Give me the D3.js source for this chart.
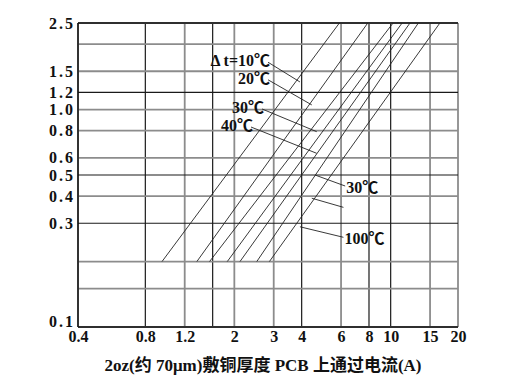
<!DOCTYPE html>
<html>
<head>
<meta charset="utf-8">
<script src="https://cdn.jsdelivr.net/npm/d3@7"></script>
<style>
    body { margin: 0; background: #fff; }
    .ylab text { font-family: "Liberation Serif", "Noto Sans CJK SC", serif; font-weight: bold; font-size: 16px; letter-spacing: 2px; fill: #111; }
    .xlab text { font-family: "Liberation Serif", "Noto Sans CJK SC", serif; font-weight: bold; font-size: 16px; fill: #111; }
    .note { font-family: "Liberation Serif", "Noto Sans CJK SC", serif; font-weight: bold; font-size: 16px; fill: #111; }
    .title { font-family: "Liberation Serif", "Noto Sans CJK SC", serif; font-weight: 600; font-size: 17px; fill: #111; }
</style>
</head>
<body>
<div id="chart"></div>
<script>
// tick values & labels
var xTicks = [0.4, 0.8, 1.2, 1.6, 2, 3, 4, 6, 8, 10, 15, 20];
var xLabels = ["0.4", "0.8", "1.2", "", "2", "3", "4", "6", "8", "10", "15", "20"];
var xDark = [0.8, 1.6, 4, 8, 10];

var yTicks = [0.1, 0.15, 0.2, 0.3, 0.4, 0.5, 0.6, 0.8, 1.0, 1.2, 1.5, 2.0, 2.5];
var yLabels = ["0.1", "", "", "0.3", "0.4", "0.5", "0.6", "0.8", "1.0", "1.2", "1.5", "", "2.5"];
var yDark = [0.3, 0.5, 1.2];

// temperature rise lines: current at width 0.2 and at width 2.5
var deltaT = [10, 20, 30, 40, 60, 80, 100];
var lineWidthEnds = [0.2, 2.5];
var currentAtLow = [0.95, 1.36, 1.55, 1.86, 2.12, 2.52, 2.87];
var currentAtHigh = [5.9, 7.9, 10.25, 11.25, 12.2, 13.3, 16.6];

// leaders: label text, from (current, width), to (current, width)
var noteText = ["Δ t=10℃", "20℃", "30℃", "40℃", "30℃", "", "100℃"];
var noteFrom = [[2.83, 1.65], [2.83, 1.37], [2.66, 1.006], [2.375, 0.831], [6.26, 0.445], [6.15, 0.355], [6.15, 0.2585]];
var noteTo = [[3.93, 1.339], [4.44, 1.05], [4.67, 0.791], [4.67, 0.629], [4.59, 0.5], [4.44, 0.391], [3.93, 0.289]];

var titleText = "2oz(约 70μm)敷铜厚度 PCB 上通过电流(A)";

var svgWidth = 512;
var svgHeight = 389;
var margin = { top: 23, right: 54, bottom: 62, left: 78 };
var width = svgWidth - margin.left - margin.right;
var height = svgHeight - margin.top - margin.bottom;

var svg = d3.select("#chart")
    .append("svg")
    .attr("width", svgWidth)
    .attr("height", svgHeight);

var g = svg.append("g")
    .attr("transform", `translate(${margin.left}, ${margin.top})`);

var x = d3.scaleLog().domain([0.4, 20]).range([0, width]);
var y = d3.scaleLog().domain([0.1, 2.5]).range([height, 0]);

// grid
g.selectAll(".vgrid")
    .data(xTicks)
    .enter()
    .append("line")
    .attr("x1", d => x(d))
    .attr("x2", d => x(d))
    .attr("y1", 0)
    .attr("y2", height)
    .attr("stroke", d => xDark.indexOf(d) >= 0 ? "#1a1a1a" : "#8c8c8c")
    .attr("stroke-width", d => xDark.indexOf(d) >= 0 ? 1.2 : 1.8);

g.selectAll(".hgrid")
    .data(yTicks)
    .enter()
    .append("line")
    .attr("x1", 0)
    .attr("x2", width)
    .attr("y1", d => y(d))
    .attr("y2", d => y(d))
    .attr("stroke", d => yDark.indexOf(d) >= 0 ? "#1a1a1a" : "#8c8c8c")
    .attr("stroke-width", d => yDark.indexOf(d) >= 0 ? 1.2 : 1.8);

// frame: top, left, bottom dark
g.append("line").attr("x1", 0).attr("x2", width).attr("y1", y(2.5)).attr("y2", y(2.5))
    .attr("stroke", "#111").attr("stroke-width", 1.3);
g.append("line").attr("x1", 0).attr("x2", width).attr("y1", y(0.1)).attr("y2", y(0.1))
    .attr("stroke", "#111").attr("stroke-width", 1.5);
g.append("line").attr("x1", x(0.4)).attr("x2", x(0.4)).attr("y1", 0).attr("y2", height)
    .attr("stroke", "#111").attr("stroke-width", 1.5);

// temperature lines
g.selectAll(".tline")
    .data(deltaT)
    .enter()
    .append("line")
    .attr("x1", (d, i) => x(currentAtLow[i]))
    .attr("y1", y(lineWidthEnds[0]))
    .attr("x2", (d, i) => x(currentAtHigh[i]))
    .attr("y2", y(lineWidthEnds[1]))
    .attr("stroke", "#222")
    .attr("stroke-width", 0.9);

// leaders & labels
g.selectAll(".leader")
    .data(noteText)
    .enter()
    .append("line")
    .attr("x1", (d, i) => x(noteFrom[i][0]))
    .attr("y1", (d, i) => y(noteFrom[i][1]))
    .attr("x2", (d, i) => x(noteTo[i][0]))
    .attr("y2", (d, i) => y(noteTo[i][1]))
    .attr("stroke", "#222")
    .attr("stroke-width", 0.9);

g.selectAll(".note")
    .data(noteText)
    .enter()
    .append("text")
    .attr("class", "note")
    .attr("x", (d, i) => x(noteFrom[i][0]) + (i < 4 ? 2 : 1))
    .attr("y", (d, i) => y(noteFrom[i][1]) + (i < 4 ? 4 : 7))
    .attr("text-anchor", (d, i) => i < 4 ? "end" : "start")
    .text(d => d);

// axes (labels only)
var leftAxis = d3.axisLeft(y)
    .tickValues(yTicks)
    .tickFormat((d, i) => yLabels[i])
    .tickSize(0)
    .tickPadding(3);

var bottomAxis = d3.axisBottom(x)
    .tickValues(xTicks)
    .tickFormat((d, i) => xLabels[i])
    .tickSize(0)
    .tickPadding(4);

var yAxis = g.append("g").attr("class", "ylab").call(leftAxis);
var xAxis = g.append("g").attr("class", "xlab")
    .attr("transform", `translate(0, ${height})`)
    .call(bottomAxis);
yAxis.select(".domain").remove();
xAxis.select(".domain").remove();

// lowest y label sits just above the axis line
yAxis.selectAll(".tick text")
    .filter(d => d === 0.1)
    .attr("dy", "-0.05em");

// axis title
svg.append("text")
    .attr("class", "title")
    .attr("x", 263)
    .attr("y", 371)
    .attr("text-anchor", "middle")
    .text(titleText);
</script>
</body>
</html>
